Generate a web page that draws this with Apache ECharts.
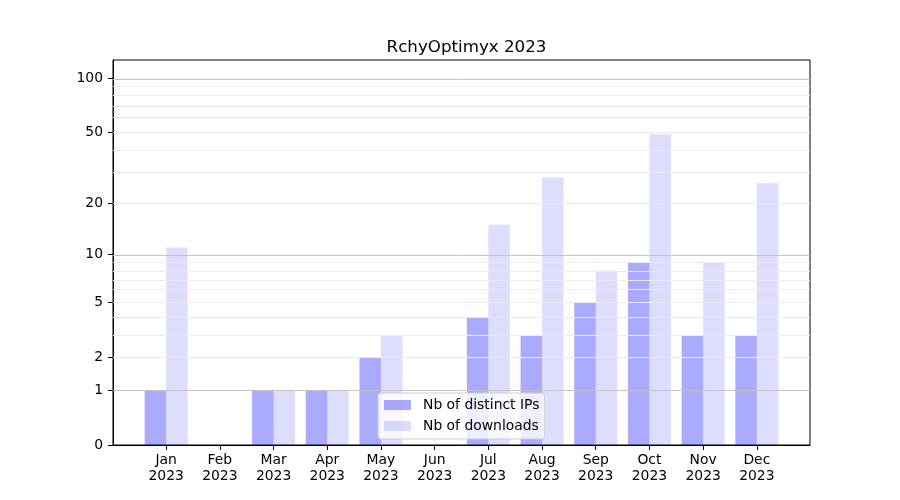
<!DOCTYPE html>
<html>
<head>
<meta charset="utf-8">
<script src="https://cdn.jsdelivr.net/npm/echarts@6/dist/echarts.min.js"></script>
<style>html,body{margin:0;padding:0;background:#fff}#c{width:900px;height:500px}</style>
</head>
<body>
<div id="c"></div>
<script>
const months = ['Jan','Feb','Mar','Apr','May','Jun','Jul','Aug','Sep','Oct','Nov','Dec'];
const year = '2023';
const ips = [1,0,1,1,2,0,4,3,5,9,3,3];
const downloads = [11,0,1,1,3,0,15,28,8,49,9,26];
const yTicks = [0,1,2,5,10,20,50,100];
const majorGrid = [1,10,100];
const minorGrid = [2,3,4,5,6,7,8,9,20,30,40,50,60,70,80,90];

// symlog-like transform used by the reference: log10(1 + v)
const t = v => Math.log10(1 + v);
const inv = y => Math.round(Math.pow(10, y) - 1);
const FONT = 'DejaVu Sans';
const FS = 13.9;

const chart = echarts.init(document.getElementById('c'), null, {renderer: 'canvas'});
const gridLines = minorGrid.map(v => ({yAxis: t(v), lineStyle: {color: '#ebebeb', width: 1, type: 'solid'}}))
  .concat(majorGrid.map(v => ({yAxis: t(v), lineStyle: {color: '#c4c4c4', width: 1, type: 'solid'}})));

chart.setOption({
  animation: false,
  backgroundColor: '#fff',
  textStyle: {fontFamily: FONT},
  title: {
    text: 'RchyOptimyx ' + year,
    left: 461.5, top: 34, textAlign: 'center',
    textStyle: {fontFamily: FONT, fontSize: 16.7, fontWeight: 'normal', color: '#000'}
  },
  grid: {left: 113, right: 90, top: 60, bottom: 55, containLabel: false, outerBoundsMode: 'none',
         show: true, borderColor: '#000', borderWidth: 1, backgroundColor: 'transparent'},
  legend: {
    orient: 'vertical', left: 378, top: 393,
    padding: [5, 5, 6, 6], itemGap: 7, itemWidth: 27, itemHeight: 10,
    icon: 'rect',
    backgroundColor: 'rgba(255,255,255,0.8)', borderColor: '#d0d0d0', borderWidth: 1, borderRadius: 3,
    textStyle: {fontFamily: FONT, fontSize: FS, color: '#000', padding: [0, 0, 0, 7]},
    data: ['Nb of distinct IPs', 'Nb of downloads']
  },
  xAxis: {
    type: 'value', min: -0.99, max: 11.99,
    splitLine: {show: false},
    axisLine: {show: true, onZero: false, lineStyle: {color: '#000', width: 1}},
    axisTick: {show: true, length: 5, customValues: months.map((m, i) => i), lineStyle: {color: '#000'}},
    axisLabel: {
      customValues: months.map((m, i) => i),
      formatter: v => months[Math.round(v)] + '\n' + year,
      fontFamily: FONT, fontSize: FS, color: '#000', lineHeight: 16, margin: 7
    }
  },
  yAxis: {
    type: 'value', min: 0, max: 2.105,
    splitLine: {show: false},
    axisLine: {show: true, onZero: false, lineStyle: {color: '#000', width: 1}},
    axisTick: {show: true, length: 5, customValues: yTicks.map(t), lineStyle: {color: '#000'}},
    axisLabel: {
      customValues: yTicks.map(t),
      formatter: v => String(inv(v)),
      fontFamily: FONT, fontSize: FS, color: '#000', margin: 10
    }
  },
  series: [
    {
      name: 'Nb of distinct IPs', type: 'bar',
      data: ips.map((v, i) => [i, t(v)]),
      barWidth: 21.5, barGap: '0%',
      itemStyle: {color: 'rgba(0,0,255,0.333)'},
      markLine: {silent: true, symbol: 'none', label: {show: false}, animation: false, data: gridLines}
    },
    {
      name: 'Nb of downloads', type: 'bar',
      data: downloads.map((v, i) => [i, t(v)]),
      barWidth: 21.5, barGap: '0%',
      itemStyle: {color: 'rgba(0,0,255,0.133)'}
    }
  ]
});
</script>
</body>
</html>
